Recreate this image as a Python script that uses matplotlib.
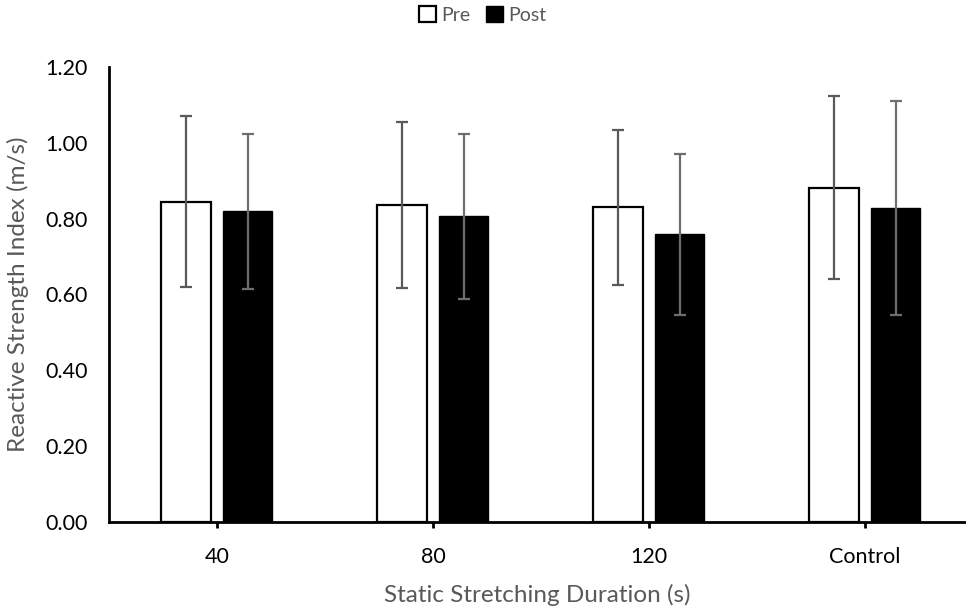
import matplotlib
matplotlib.use("Agg")
import matplotlib.pyplot as plt
import numpy as np

categories = ["40", "80", "120", "Control"]
pre_mean = [0.845, 0.836, 0.830, 0.882]
post_mean = [0.819, 0.806, 0.759, 0.828]
pre_err = [0.226, 0.220, 0.205, 0.242]
post_err = [0.205, 0.217, 0.212, 0.283]
yticks = [0.0, 0.2, 0.4, 0.6, 0.8, 1.0, 1.2]

plt.rcParams['font.family'] = ['Lato', 'DejaVu Sans']

fig = plt.figure(figsize=(9.66, 6.13), dpi=100)
ax = fig.add_axes([109/966, (613-522)/613, 1 - 109/966, (522-67)/613])

x = np.arange(len(categories))
w = 0.228
off = 0.143
gray = "#595959"

ax.bar(x - off, pre_mean, w, color="white", edgecolor="black", linewidth=1.6, label="Pre", zorder=2)
ax.bar(x + off, post_mean, w, color="black", edgecolor="black", linewidth=1.0, label="Post", zorder=2)
ax.errorbar(x - off, pre_mean, yerr=pre_err, fmt="none", ecolor=gray, elinewidth=1.6,
            capsize=4.5, capthick=1.6, zorder=3)
ax.errorbar(x + off, post_mean, yerr=post_err, fmt="none", ecolor="#6e6e6e", elinewidth=1.6,
            capsize=4.5, capthick=1.6, zorder=3)

ax.set_xlim(-0.5, 3.468)
ax.set_ylim(0, 1.2)
ax.set_yticks(yticks)
ax.set_yticklabels([f"{v:.2f}" for v in yticks])
ax.set_xticks(x)
ax.set_xticklabels(categories)

for s in ["top", "right"]:
    ax.spines[s].set_visible(False)
for s in ["left", "bottom"]:
    ax.spines[s].set_linewidth(2.0)
    ax.spines[s].set_color("black")

ax.tick_params(axis="y", length=0, pad=15, labelsize=15.5, labelcolor="black")
ax.tick_params(axis="x", length=4, width=2, direction="out", pad=14, labelsize=15.5, labelcolor="black")

ax.set_xlabel("Static Stretching Duration (s)", fontsize=17.5, color=gray, labelpad=12)
ax.set_ylabel("Reactive Strength Index (m/s)", fontsize=17.5, color=gray, labelpad=12)

leg = fig.legend(loc="upper center", bbox_to_anchor=(0.5, 1.018), ncol=2, frameon=False,
                 fontsize=14, handlelength=0.85, handleheight=0.85, handletextpad=0.3,
                 columnspacing=0.8)
for t in leg.get_texts():
    t.set_color(gray)

fig.savefig("out.png", dpi=100)
